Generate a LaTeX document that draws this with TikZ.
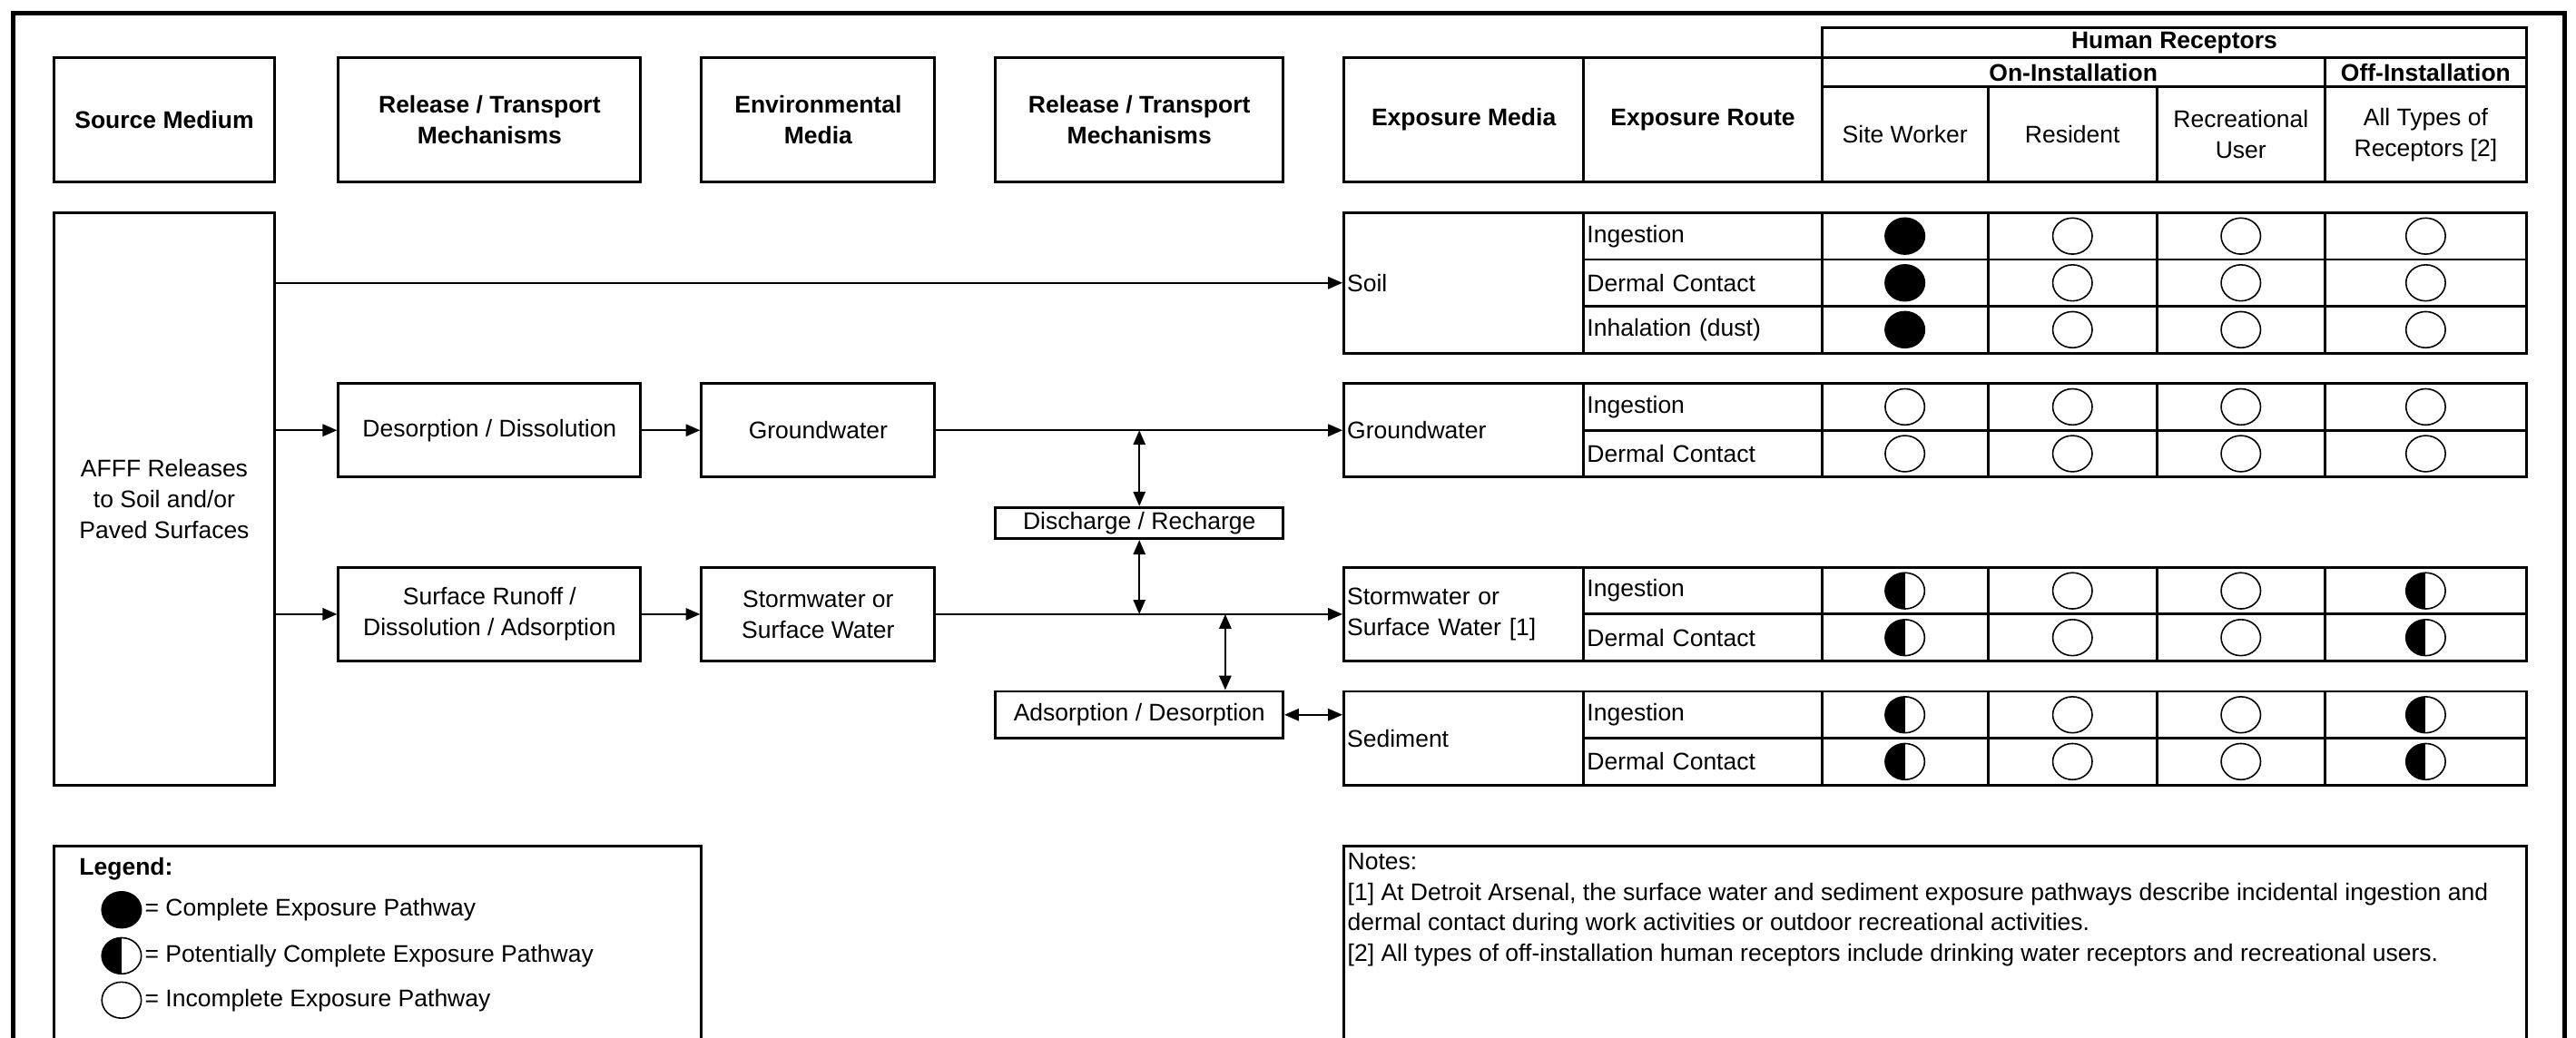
\documentclass[tikz,border=0pt]{standalone}
\usepackage{fontspec}
\setmainfont{Liberation Sans}
\linespread{1.0667}
\usetikzlibrary{arrows.meta,shapes.geometric,positioning}
\newlength{\pxu}
\setlength{\pxu}{0.683pt}
\tikzset{
  blk/.style 2 args={rectangle,draw,line width=1.1pt,inner sep=0pt,
    minimum width=#1*\pxu,minimum height=#2*\pxu,align=center},
  hdr/.style 2 args={blk={#1}{#2},font=\bfseries},
  cell/.style 2 args={blk={#1}{#2},text width=#1*\pxu-4*\pxu,align=left},
  arr/.style={-{Triangle[length=6pt,width=5pt]},line width=0.8pt},
  dbl/.style={{Triangle[length=6pt,width=5pt]}-{Triangle[length=6pt,width=5pt]},line width=0.8pt},
  mk/.style={ellipse,draw,line width=0.6pt,inner sep=0pt,
    minimum width=24*\pxu,minimum height=22*\pxu},
  cpl/.style={mk,fill=black},
  pot/.style={mk,fill=white,path picture={\fill[black] (path picture bounding box.north)
    rectangle (path picture bounding box.south west);}},
  inc/.style={mk,fill=white},
  txt/.style={inner sep=0pt},
  frame/.style={line width=2pt}
}
% one row of the exposure table: name, y, route, four receptor marks
\newcommand{\exprow}[7]{%
  \node[cell={145}{28.5}] (#1) at (1036.5,#2) {#3};
  \foreach \cx/\cw/\mk [count=\k] in {1159.5/101/#4,1261.5/103/#5,1364/102/#6,1476.5/123/#7}{
    \node[blk={\cw}{28.5}] (#1-c\k) at (\cx,#2) {};
    \node[\mk] (#1-m\k) at (#1-c\k) {};
  }%
}

\begin{document}
\begin{tikzpicture}[x=\pxu,y=-\pxu]
    \useasboundingbox (0,0) rectangle (1568,632);
    \clip (0,0) rectangle (1568,632);
    \draw[frame] (8,650) -- (8,8) -- (1561,8) -- (1561,650);

    \node[hdr={134}{76}] (hsrc) at (100,73) {Source Medium};
    \node[hdr={184}{76}] (hrel1) at (298,73) {Release / Transport\\Mechanisms};
    \node[hdr={142}{76}] (henv) at (498,73) {Environmental\\Media};
    \node[hdr={175}{76}] (hrel2) at (693.5,73) {Release / Transport\\Mechanisms};
    \node[hdr={146}{76}] (hmed) at (891,73) {Exposure Media};
    \node[hdr={145}{76}] (hroute) at (1036.5,73) {Exposure Route};
    \node[hdr={429}{18}] (hhum) at (1323.5,26) {Human Receptors};
    \node[hdr={306}{18}] (hon) at (1262,44) {On-Installation};
    \node[hdr={123}{18}] (hoff) at (1476.5,44) {Off-Installation};
    \node[blk={101}{58}] (hsw) at (1159.5,82) {Site Worker};
    \node[blk={103}{58}] (hres) at (1261.5,82) {Resident};
    \node[blk={102}{58}] (hrec) at (1364,82) {Recreational\\User};
    \node[blk={123}{58}] (hall) at (1476.5,82) {All Types of\\Receptors [2]};

    \node[blk={134}{348.5}] (afff) at (100,303.75) {AFFF Releases\\to Soil and/or\\Paved Surfaces};
    \node[blk={184}{57}] (desorp) at (298,262) {Desorption / Dissolution};
    \node[blk={142}{57}] (gw) at (498,262) {Groundwater};
    \node[blk={184}{57}] (runoff) at (298,374) {Surface Runoff /\\Dissolution / Adsorption};
    \node[blk={142}{57}] (sw) at (498,374) {Stormwater or\\Surface Water};
    \node[blk={175}{19}] (dis) at (693.5,318.5) {Discharge / Recharge};
    \node[blk={175}{28.5}] (ads) at (693.5,435.25) {Adsorption / Desorption};

    \node[cell={146}{85.5}] (soil) at (891,172.25) {Soil};
    \node[cell={146}{57}] (gwmed) at (891,262) {Groundwater};
    \node[cell={146}{57}] (swmed) at (891,374) {Stormwater or\\Surface Water [1]};
    \node[cell={146}{57}] (sedmed) at (891,449.5) {Sediment};

    \exprow{soilA}{143.75}{Ingestion}{cpl}{inc}{inc}{inc}
    \exprow{soilB}{172.25}{Dermal Contact}{cpl}{inc}{inc}{inc}
    \exprow{soilC}{200.75}{Inhalation (dust)}{cpl}{inc}{inc}{inc}
    \exprow{gwA}{247.75}{Ingestion}{inc}{inc}{inc}{inc}
    \exprow{gwB}{276.25}{Dermal Contact}{inc}{inc}{inc}{inc}
    \exprow{swA}{359.75}{Ingestion}{pot}{inc}{inc}{pot}
    \exprow{swB}{388.25}{Dermal Contact}{pot}{inc}{inc}{pot}
    \exprow{sedA}{435.25}{Ingestion}{pot}{inc}{inc}{pot}
    \exprow{sedB}{463.75}{Dermal Contact}{pot}{inc}{inc}{pot}

    \draw[arr] (afff.east |- soil.west) -- (soil.west);
    \draw[arr] (afff.east |- desorp.west) -- (desorp.west);
    \draw[arr] (desorp) -- (gw);
    \draw[arr] (gw) -- (gwmed);
    \draw[arr] (afff.east |- runoff.west) -- (runoff.west);
    \draw[arr] (runoff) -- (sw);
    \draw[arr] (sw) -- (swmed);
    \draw[dbl] (dis.north |- gw.east) -- (dis.north);
    \draw[dbl] (dis.south) -- (dis.south |- sw.east);
    \coordinate (adstop) at ([xshift=-36*\pxu]ads.north east);
    \draw[dbl] (adstop |- sw.east) -- (adstop);
    \draw[dbl] (ads.east) -- (ads.east -| sedmed.west);

    \node[blk={394}{140}] (legend) at (230,585) {};
    \node[txt,anchor=west,font=\bfseries] (legtitle) at (48,529) {Legend:};
    \node[cpl] (lgc) at (74,554) {};
    \node[txt,right=1pt of lgc] (lgct) {= Complete Exposure Pathway};
    \node[pot] (lgp) at (74,582) {};
    \node[txt,right=1pt of lgp] (lgpt) {= Potentially Complete Exposure Pathway};
    \node[inc] (lgi) at (74,609) {};
    \node[txt,right=1pt of lgi] (lgit) {= Incomplete Exposure Pathway};

    \node[blk={720}{140}] (notes) at (1178,585) {};
    \node[txt,anchor=north west,align=left] (notetext) at (820,519) {Notes:\\{}[1] At Detroit Arsenal, the surface water and sediment exposure pathways describe incidental ingestion and\\dermal contact during work activities or outdoor recreational activities.\\{}[2] All types of off-installation human receptors include drinking water receptors and recreational users.};
\end{tikzpicture}
\end{document}
